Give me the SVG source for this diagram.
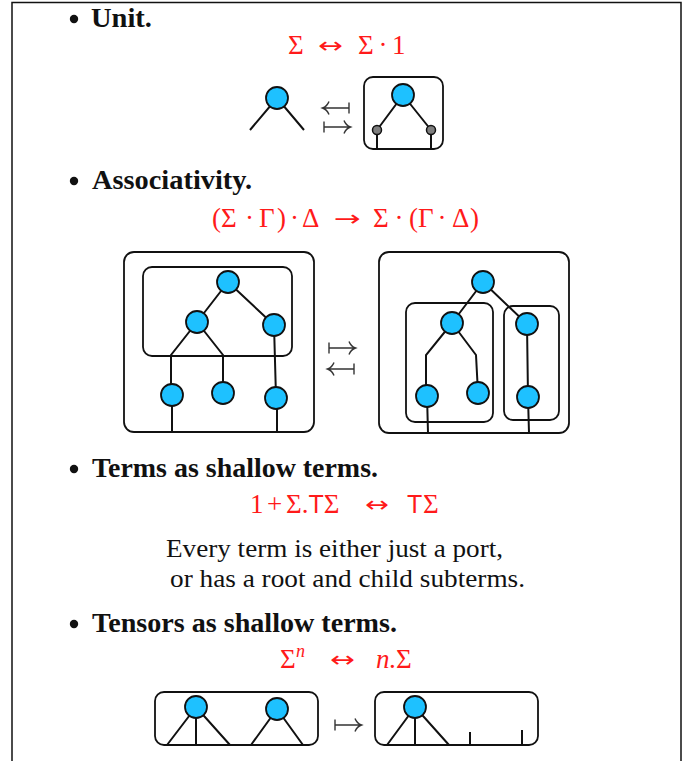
<svg xmlns="http://www.w3.org/2000/svg" width="691" height="761" viewBox="0 0 691 761">
<defs>
<path id="mapsto" d="M0,-5.5 V5.5 M0,0 H26 M20,-6.5 Q22,-1.5 26.5,0 Q22,1.5 20,6.5" fill="none" stroke="#333" stroke-width="1.4"/>
</defs>
<style>
.head{font-family:"Liberation Serif",serif;font-weight:bold;font-size:27px;fill:#111}
.body{font-family:"Liberation Serif",serif;font-size:25px;fill:#111}
.math{font-family:"Liberation Serif",serif;font-size:27px;fill:#ff1a1a}
.rarr{font-family:"DejaVu Sans",sans-serif;font-size:22px;fill:#ff1a1a}
.sans{font-family:"Liberation Sans",sans-serif;font-size:25px}
.it{font-style:italic}
.node{fill:#1ec1ff;stroke:#111;stroke-width:1.8}
.port{fill:#7f7f7f;stroke:#111;stroke-width:1.5}
.box{fill:none;stroke:#111;stroke-width:1.8}
.edge{stroke:#111;stroke-width:2;fill:none;stroke-linecap:butt}
.frame{stroke:#111;stroke-width:1.5;fill:none}
</style>
<rect width="691" height="761" fill="#fff"/>
<path class="frame" d="M12,761 V2.5 H681 V761"/>

<!-- headings -->
<g id="headings">
<circle cx="74" cy="19" r="4.2" fill="#111"/>
<text class="head" x="91" y="27" textLength="61" lengthAdjust="spacingAndGlyphs">Unit.</text>
<circle cx="74" cy="181" r="4.2" fill="#111"/>
<text class="head" x="92" y="189" textLength="160" lengthAdjust="spacingAndGlyphs">Associativity.</text>
<circle cx="74" cy="469" r="4.2" fill="#111"/>
<text class="head" x="92" y="477" textLength="286" lengthAdjust="spacingAndGlyphs">Terms as shallow terms.</text>
<circle cx="74" cy="624" r="4.2" fill="#111"/>
<text class="head" x="92" y="632" textLength="305" lengthAdjust="spacingAndGlyphs">Tensors as shallow terms.</text>
</g>

<!-- formulas -->
<g id="formulas">
<text class="math" y="54"><tspan x="288">Σ</tspan><tspan x="358">Σ</tspan><tspan x="378.6">·</tspan><tspan x="392">1</tspan></text>
<text class="rarr" x="318" y="53" textLength="25" lengthAdjust="spacingAndGlyphs">↔</text>
<text class="math" y="227"><tspan x="212">(</tspan><tspan x="221">Σ</tspan><tspan x="245">·</tspan><tspan x="259">Γ</tspan><tspan x="277">)</tspan><tspan x="290">·</tspan><tspan x="302">Δ</tspan><tspan x="373">Σ</tspan><tspan x="394.6">·</tspan><tspan x="409">(</tspan><tspan x="418">Γ</tspan><tspan x="437.6">·</tspan><tspan x="452">Δ</tspan><tspan x="470">)</tspan></text>
<text class="rarr" x="334" y="226" textLength="27" lengthAdjust="spacingAndGlyphs">→</text>
<text class="math" y="513"><tspan x="250">1</tspan><tspan x="267">+</tspan><tspan x="286">Σ.<tspan class="sans">T</tspan>Σ</tspan><tspan x="407" class="sans">T</tspan><tspan x="423">Σ</tspan></text>
<text class="rarr" x="365" y="512" textLength="24" lengthAdjust="spacingAndGlyphs">↔</text>
<text class="math" y="668"><tspan x="280">Σ</tspan><tspan x="296" y="657" class="it" style="font-size:18px">n</tspan><tspan x="376" y="668" class="it">n</tspan><tspan x="389">.</tspan><tspan x="396">Σ</tspan></text>
<text class="rarr" x="330" y="667" textLength="25" lengthAdjust="spacingAndGlyphs">↔</text>
</g>

<g id="caption">
<text class="body" x="166" y="557" textLength="337" lengthAdjust="spacingAndGlyphs">Every term is either just a port,</text>
<text class="body" x="170" y="587" textLength="355" lengthAdjust="spacingAndGlyphs">or has a root and child subterms.</text>
</g>

<!-- mapping arrows (mapsto / mapsfrom) -->
<g id="maps">
<use href="#mapsto" transform="translate(349,108) scale(-1,1)"/>
<use href="#mapsto" transform="translate(324,127)"/>
<use href="#mapsto" transform="translate(329,348)"/>
<use href="#mapsto" transform="translate(354,369) scale(-1,1)"/>
<use href="#mapsto" transform="translate(335,725)"/>
</g>

<!-- boxes -->
<g id="box-unit"><rect class="box" x="364" y="77" width="79" height="72" rx="9"/></g>
<g id="box-assoc-left-outer"><rect class="box" x="124" y="252" width="190" height="180" rx="10"/></g>
<g id="box-assoc-left-inner"><rect class="box" x="143" y="267" width="149" height="89" rx="9"/></g>
<g id="box-assoc-right-outer"><rect class="box" x="379" y="252" width="190" height="181" rx="10"/></g>
<g id="box-assoc-right-a"><rect class="box" x="406" y="303" width="87" height="119" rx="9"/></g>
<g id="box-assoc-right-b"><rect class="box" x="504" y="306" width="55" height="114" rx="9"/></g>
<g id="box-tensor-left"><rect class="box" x="155" y="692" width="163" height="53" rx="9"/></g>
<g id="box-tensor-right"><rect class="box" x="375" y="692" width="163" height="53" rx="9"/></g>

<!-- connectors -->
<g id="connectors" class="edge">
<path class="edge" d="M277,98 L250,130 M277,98 L304,130"/>
<path class="edge" d="M403,95 L377,130 M403,95 L431,130 M377,130 V149 M431,130 V149"/>
<path class="edge" d="M228,282 L197,322 M228,282 L274,325"/>
<path class="edge" d="M197,322 L171,355 V395 M197,322 L223,355 V393 M274,325 L276,397"/>
<path class="edge" d="M172,395 V432 M277,397 V432"/>
<path class="edge" d="M483,282 L452,323 M483,282 L527,324"/>
<path class="edge" d="M452,323 L426,355 V395 M452,323 L476,355 L478,393 M527,324 L528,397"/>
<path class="edge" d="M427,395 L428,433 M528,397 L529,433"/>
<path class="edge" d="M196,707 L167,745 M196,707 L196,745 M196,707 L230,745"/>
<path class="edge" d="M277,709 L251,745 M277,709 L303,745"/>
<path class="edge" d="M415,707 L387,745 M415,707 L415,745 M415,707 L449,745"/>
<path class="edge" d="M470,732 V745 M522,730 V745"/>
</g>

<!-- nodes -->
<g id="n-unit-l"><circle class="node" cx="277" cy="98" r="11"/></g>
<g id="n-unit-r"><circle class="node" cx="403" cy="95" r="11"/></g>
<g id="p-unit-1"><circle class="port" cx="377" cy="130" r="4.5"/></g>
<g id="p-unit-2"><circle class="port" cx="431" cy="130" r="4.5"/></g>

<g id="n-al-root"><circle class="node" cx="228" cy="282" r="11"/></g>
<g id="n-al-l"><circle class="node" cx="197" cy="322" r="11"/></g>
<g id="n-al-r"><circle class="node" cx="274" cy="325" r="11"/></g>
<g id="n-al-b1"><circle class="node" cx="172" cy="395" r="11"/></g>
<g id="n-al-b2"><circle class="node" cx="223" cy="393" r="11"/></g>
<g id="n-al-b3"><circle class="node" cx="276" cy="398" r="11"/></g>

<g id="n-ar-root"><circle class="node" cx="483" cy="282" r="11"/></g>
<g id="n-ar-l"><circle class="node" cx="452" cy="323" r="11"/></g>
<g id="n-ar-r"><circle class="node" cx="527" cy="324" r="11"/></g>
<g id="n-ar-b1"><circle class="node" cx="427" cy="396" r="11"/></g>
<g id="n-ar-b2"><circle class="node" cx="478" cy="393" r="11"/></g>
<g id="n-ar-b3"><circle class="node" cx="528" cy="397" r="11"/></g>

<g id="n-tl-1"><circle class="node" cx="196" cy="707" r="11"/></g>
<g id="n-tl-2"><circle class="node" cx="277" cy="709" r="11"/></g>
<g id="n-tr-1"><circle class="node" cx="415" cy="707" r="11"/></g>
</svg>
